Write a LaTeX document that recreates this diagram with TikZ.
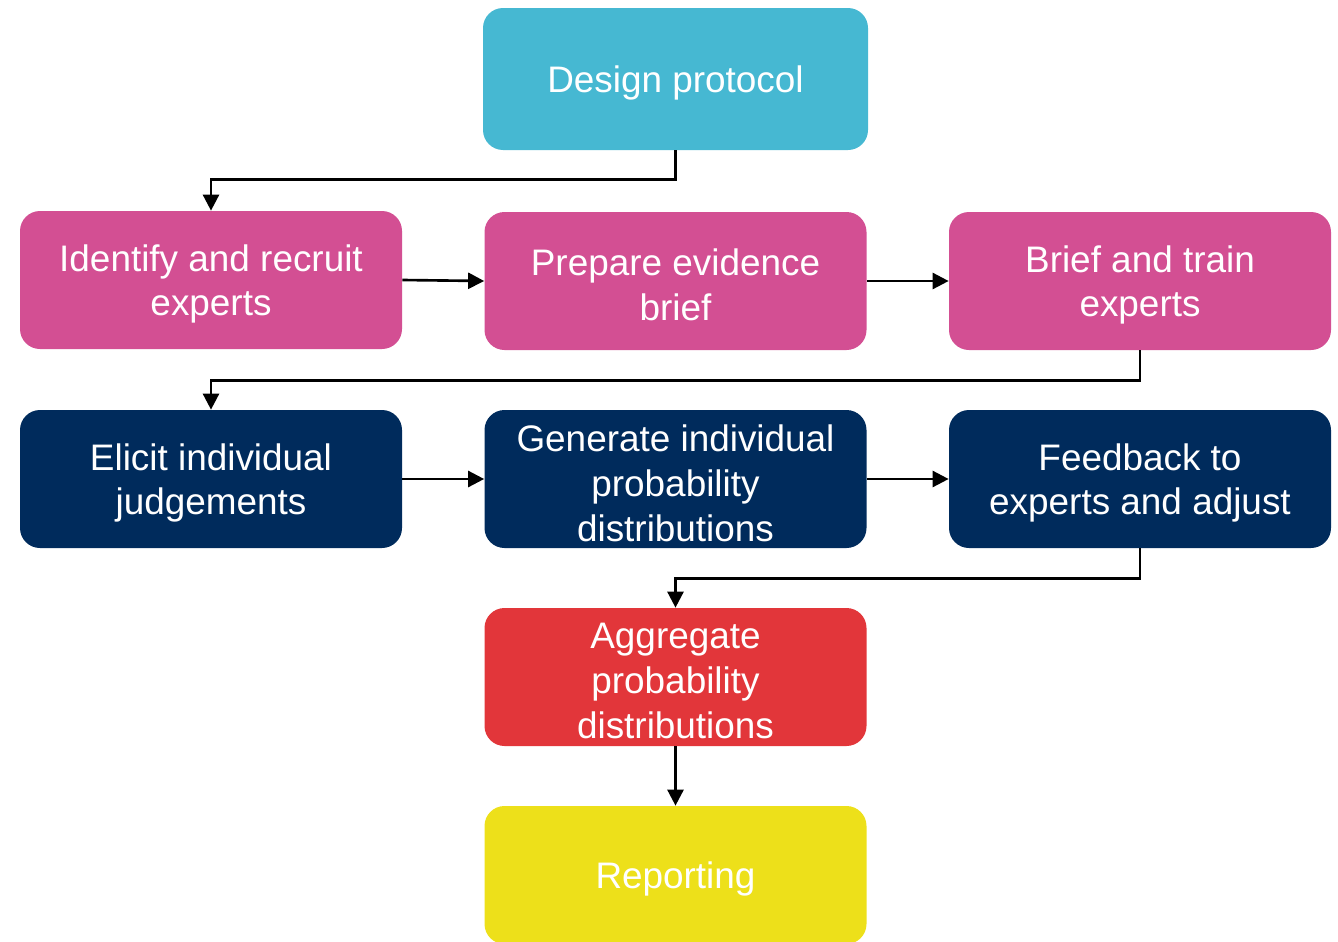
\documentclass[tikz,border=0pt]{standalone}
\usepackage{fontspec}
\setmainfont{Liberation Sans}
\usepackage{tikz}
\usetikzlibrary{arrows.meta}

\definecolor{protocolcol}{HTML}{46B8D2}
\definecolor{expertcol}{HTML}{D34F93}
\definecolor{elicitcol}{HTML}{002B5C}
\definecolor{aggregatecol}{HTML}{E2363A}
\definecolor{reportcol}{HTML}{EDE01A}

\begin{document}
\begin{tikzpicture}[
    stepbox/.style={rectangle, rounded corners=0.4cm, draw=none, text=white,
        minimum width=7.64cm, minimum height=2.76cm, align=center,
        font=\fontsize{21}{25.5}\selectfont, inner sep=0pt},
    steptext/.style={text=white, align=center, font=\fontsize{21}{25.5}\selectfont, inner sep=0pt},
    link/.style={draw=black, line width=1.5pt, -{Triangle[length=0.32cm,width=0.32cm]}}
  ]
            \useasboundingbox (0,0) rectangle (26.76,-18.82);

            \node[stepbox, fill=protocolcol, minimum width=7.7cm, minimum height=2.84cm] (design) at (13.51,-1.58) {};
            \node[steptext] at ([yshift=-0.08cm]design.center) {Design protocol};

            \node[stepbox, fill=expertcol] (recruit) at (4.22,-5.6) {};
            \node[stepbox, fill=expertcol] (evidence) at (13.51,-5.62) {};
            \node[stepbox, fill=expertcol] (train) at (22.8,-5.62) {};
            \node[steptext] at ([yshift=-0.08cm]recruit.center) {Identify and recruit\\experts};
            \node[steptext] at ([yshift=-0.08cm]evidence.center) {Prepare evidence\\brief};
            \node[steptext] at ([yshift=-0.08cm]train.center) {Brief and train\\experts};

            \node[stepbox, fill=elicitcol] (elicit) at (4.22,-9.58) {};
            \node[stepbox, fill=elicitcol] (generate) at (13.51,-9.58) {};
            \node[stepbox, fill=elicitcol] (feedback) at (22.8,-9.58) {};
            \node[steptext] at ([yshift=-0.08cm]elicit.center) {Elicit individual\\judgements};
            \node[steptext] at ([yshift=-0.08cm]generate.center) {Generate individual\\probability\\distributions};
            \node[steptext] at ([yshift=-0.08cm]feedback.center) {Feedback to\\experts and adjust};

            \node[stepbox, fill=aggregatecol] (aggregate) at (13.51,-13.54) {};
            \node[stepbox, fill=reportcol] (report) at (13.51,-17.5) {};
            \node[steptext] at ([yshift=-0.08cm]aggregate.center) {Aggregate\\probability\\distributions};
            \node[steptext] at ([yshift=-0.08cm]report.center) {Reporting};

            \draw[link] (design.south) -- ++(0,-0.58) -| (recruit.north);
            \draw[link] (recruit.east) -- (evidence.west);
            \draw[link] (evidence.east) -- (train.west);

            \draw[link] (train.south) -- ++(0,-0.6) -| (elicit.north);
            \draw[link] (elicit.east) -- (generate.west);
            \draw[link] (generate.east) -- (feedback.west);

            \draw[link] (feedback.south) -- ++(0,-0.6) -| (aggregate.north);
            \draw[link] (aggregate.south) -- (report.north);
\end{tikzpicture}
\end{document}
